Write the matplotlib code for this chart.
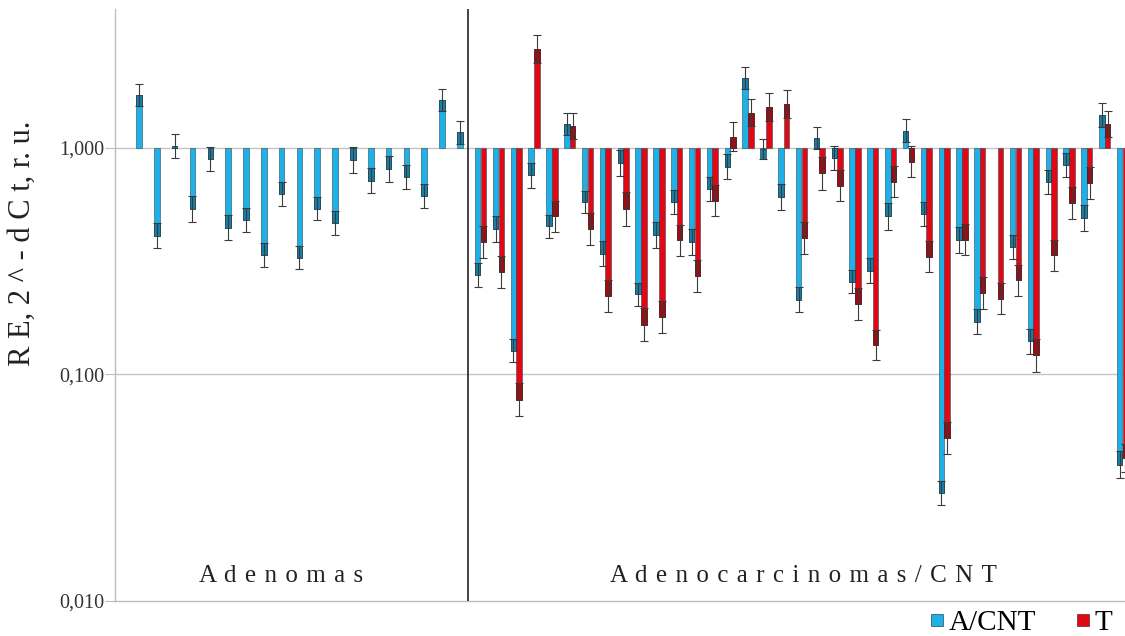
import numpy as np
import matplotlib
matplotlib.use("Agg")
import matplotlib.pyplot as plt
from matplotlib.lines import Line2D
from matplotlib.ticker import FixedLocator, NullLocator
from matplotlib.transforms import blended_transform_factory

plt.rcParams['font.family'] = ['Liberation Serif', 'DejaVu Serif']

# Adenomas: relative expression and outer whisker end (single series, A/CNT)
aden_val = [1.71, 0.410, 1.02, 0.537, 0.894, 0.445, 0.481, 0.338, 0.625, 0.328,
            0.538, 0.465, 0.888, 0.715, 0.808, 0.743, 0.610, 1.63, 1.17]
aden_cap = [1.91, 0.361, 1.15, 0.470, 0.792, 0.393, 0.425, 0.299, 0.555, 0.292,
            0.478, 0.412, 0.778, 0.629, 0.708, 0.655, 0.540, 1.82, 1.31]

# Adenocarcinomas: A/CNT (blue) and T (red), value + outer whisker end
acnt_val = [0.275, 0.439, 0.127, 0.755, 0.450, 1.276, 0.576, 0.341, 0.856, 0.226,
            0.413, 0.576, 0.384, 0.659, 0.827, 2.03, 0.987, 0.606, 0.214, 1.104,
            0.901, 0.257, 0.287, 0.498, 1.192, 0.510, 0.030, 0.393, 0.171, np.nan,
            0.365, 0.140, 0.706, 0.841, 0.490, 1.398, 0.040]
acnt_cap = [0.244, 0.386, 0.113, 0.664, 0.400, 1.431, 0.515, 0.300, 0.752, 0.201,
            0.363, 0.510, 0.337, 0.584, 0.730, 2.27, 1.096, 0.533, 0.188, 1.234,
            0.800, 0.229, 0.253, 0.435, 1.339, 0.450, 0.0266, 0.345, 0.151, np.nan,
            0.323, 0.1235, 0.625, 0.743, 0.430, 1.575, 0.035]
t_val = [0.384, 0.283, 0.0774, 2.725, 0.498, 1.250, 0.439, 0.221, 0.537, 0.166,
         0.180, 0.390, 0.272, 0.584, 1.121, 1.431, 1.521, 1.564, 0.400, 0.773,
         0.680, 0.205, 0.135, 0.710, 0.870, 0.330, 0.0524, 0.393, 0.229, 0.216,
         0.260, 0.1213, 0.335, 0.570, 0.699, 1.272, 0.0428]
t_cap = [0.326, 0.240, 0.0653, 3.15, 0.427, 1.431, 0.373, 0.188, 0.453, 0.140,
         0.153, 0.332, 0.232, 0.498, 1.298, 1.640, 1.754, 1.803, 0.341, 0.653,
         0.580, 0.174, 0.116, 0.606, 0.743, 0.282, 0.0446, 0.335, 0.195, 0.185,
         0.222, 0.103, 0.287, 0.486, 0.594, 1.456, 0.037]

ytick_vals = [0.01, 0.1, 1.0]
ytick_text = ["0,010", "0,100", "1,000"]

BLUE = '#1fb0e8'
BLUE_D = '#177fa8'
RED = '#e30613'
RED_D = '#a30a10'

blue_v = np.array(aden_val + acnt_val, dtype=float)
blue_c = np.array(aden_cap + acnt_cap, dtype=float)
red_v = np.array([np.nan] * len(aden_val) + t_val, dtype=float)
red_c = np.array([np.nan] * len(aden_val) + t_cap, dtype=float)
x = np.arange(len(blue_v))

fig = plt.figure(figsize=(11.25, 6.36), dpi=100)
ax = fig.add_axes([115 / 1125, 35 / 636, 1010 / 1125, 592 / 636])
ax.set_yscale('log')

W = 0.31
OFF = 0.16


def draw(xpos, vals, caps, color, dark):
    ok = ~np.isnan(vals)
    xs, v, c = xpos[ok], vals[ok], caps[ok]
    ax.bar(xs, v - 1, bottom=1, width=W, color=color, edgecolor='#2a4a5a',
           linewidth=0.4, zorder=3)
    inner = v ** 2 / c
    # darker segment between bar end and inner whisker end, kept inside the bar
    seg_end = np.where(v >= 1, np.maximum(inner, 1), np.minimum(inner, 1))
    ax.bar(xs, seg_end - v, bottom=v, width=W, color=dark, edgecolor='#222222',
           linewidth=0.4, zorder=4)
    lo = np.minimum(c, inner)
    hi = np.maximum(c, inner)
    ax.errorbar(xs, v, yerr=[v - lo, hi - v], fmt='none', ecolor='#3a3a3a',
                elinewidth=0.8, capsize=3, capthick=0.8, zorder=5)


draw(x - OFF, blue_v, blue_c, BLUE, BLUE_D)
draw(x + OFF, red_v, red_c, RED, RED_D)

ax.set_xlim(-1.503, 55.14)
ax.set_ylim(0.01, 4.1)

for yv in (0.1, 1.0):
    ax.axhline(yv, color='#c4c4c4', lw=1, zorder=1)
ax.axvline(18.29, color='#222222', lw=1.2, zorder=6)

for s in ('top', 'right'):
    ax.spines[s].set_visible(False)
for s in ('left', 'bottom'):
    ax.spines[s].set_color('#bdbdbd')
    ax.spines[s].set_linewidth(1)

ax.xaxis.set_major_locator(NullLocator())
ax.xaxis.set_minor_locator(NullLocator())
ax.yaxis.set_major_locator(FixedLocator(ytick_vals))
ax.yaxis.set_minor_locator(NullLocator())
ax.set_yticklabels(ytick_text)
ax.tick_params(axis='y', length=7, color='#bdbdbd', labelsize=14.5,
               labelcolor='#333333', pad=0.5)

fig.text(22 / 1125, 1 - 243 / 636, "R E, 2 ^ - d C t, r. u.", rotation=90,
         ha='center', va='center', fontsize=22, color='#222222')

# letter-spaced group captions (space + hair space between letters)
gap = " \u200a"
tr = blended_transform_factory(ax.transData, ax.transAxes)
ax.text(7.8, 25 / 592, gap.join("Adenomas"), transform=tr, ha='center',
        va='center', fontsize=18, color='#222222')
ax.text(37.08, 25 / 592, gap.join("Adenocarcinomas/CNT"), transform=tr,
        ha='center', va='center', fontsize=18, color='#222222')

handles = [Line2D([], [], marker='s', ls='none', markersize=9, color=BLUE,
                  markeredgecolor='#2a4a5a', markeredgewidth=0.5),
           Line2D([], [], marker='s', ls='none', markersize=9, color=RED,
                  markeredgecolor='#5a2a2a', markeredgewidth=0.5)]
fig.legend(handles, ['A/CNT', 'T'], loc='lower right', bbox_to_anchor=(1112 / 1125, 0.0),
           ncol=2, frameon=False, fontsize=21, handletextpad=0.1,
           columnspacing=1.3, handlelength=0.6, borderpad=0, borderaxespad=0)

fig.savefig('out.png', dpi=100)
